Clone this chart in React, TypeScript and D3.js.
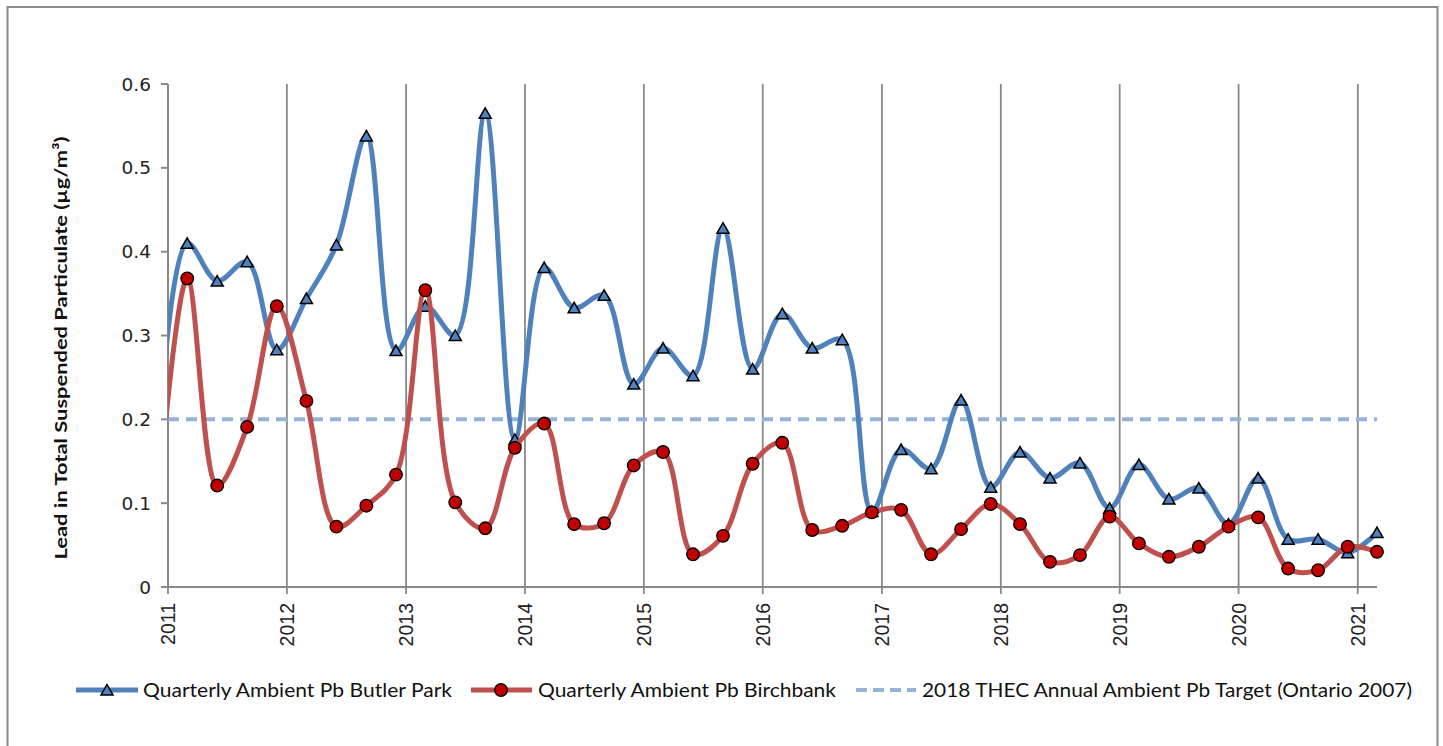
import * as d3 from 'd3'

// quarterly sampling dates (first one sits just left of the axis and is clipped)
const dates: string[] = [
    '2010-12-01',
    '2011-03-01', '2011-06-01', '2011-09-01', '2011-12-01',
    '2012-03-01', '2012-06-01', '2012-09-01', '2012-12-01',
    '2013-03-01', '2013-06-01', '2013-09-01', '2013-12-01',
    '2014-03-01', '2014-06-01', '2014-09-01', '2014-12-01',
    '2015-03-01', '2015-06-01', '2015-09-01', '2015-12-01',
    '2016-03-01', '2016-06-01', '2016-09-01', '2016-12-01',
    '2017-03-01', '2017-06-01', '2017-09-01', '2017-12-01',
    '2018-03-01', '2018-06-01', '2018-09-01', '2018-12-01',
    '2019-03-01', '2019-06-01', '2019-09-01', '2019-12-01',
    '2020-03-01', '2020-06-01', '2020-09-01', '2020-12-01',
    '2021-03-01',
]

const butlerPark: number[] = [
    0.16,
    0.41, 0.365, 0.388, 0.283,
    0.344, 0.408, 0.538, 0.282,
    0.335, 0.3, 0.565, 0.176,
    0.381, 0.333, 0.348, 0.242,
    0.285, 0.252, 0.428, 0.26,
    0.326, 0.285, 0.295, 0.09,
    0.164, 0.141, 0.223, 0.119,
    0.161, 0.13, 0.148, 0.094,
    0.146, 0.105, 0.118, 0.075,
    0.13, 0.057, 0.057, 0.041,
    0.065,
]

const birchbank: number[] = [
    0.1,
    0.368, 0.121, 0.191, 0.335,
    0.222, 0.072, 0.097, 0.134,
    0.354, 0.101, 0.07, 0.166,
    0.195, 0.075, 0.076, 0.145,
    0.161, 0.039, 0.061, 0.147,
    0.172, 0.068, 0.073, 0.089,
    0.092, 0.039, 0.069, 0.099,
    0.075, 0.03, 0.038, 0.084,
    0.052, 0.036, 0.048, 0.072,
    0.083, 0.022, 0.02, 0.048,
    0.042,
]

const target = 0.2
const yTicks: number[] = [0, 0.1, 0.2, 0.3, 0.4, 0.5, 0.6]
const yearTicks: number[] = [2011, 2012, 2013, 2014, 2015, 2016, 2017, 2018, 2019, 2020, 2021]

const legendLabels: string[] = [
    'Quarterly Ambient Pb Butler Park',
    'Quarterly Ambient Pb Birchbank',
    '2018 THEC Annual Ambient Pb Target (Ontario 2007)',
]

const BLUE = '#4F81BD'
const RED = '#C0504D'
const RED_FILL = '#C00000'
const DASH = '#95B3D7'
const GRAY = '#898989'

const parse = d3.timeParse('%Y-%m-%d')

export default function App() {
    const x0 = parse('2011-01-01')!
    const x1 = parse('2021-03-01')!
    const x = d3.scaleTime().domain([x0, x1]).range([168, 1377])
    const y = d3.scaleLinear().domain([0, 0.6]).range([587, 84])

    const pts = (vals: number[]) => dates.map((d, i) => ({ d: parse(d)!, v: vals[i] }))
    const blue = pts(butlerPark)
    const red = pts(birchbank)

    const line = d3.line<{ d: Date, v: number }>()
        .x(p => x(p.d))
        .y(p => y(p.v))
        .curve(d3.curveCatmullRom.alpha(0.5))

    const visible = (p: { d: Date }) => p.d >= x0
    const tri = 'M0,-5.5L6,5L-6,5Z'
    const yearX = (yr: number) => x(new Date(yr, 0, 1))

    return (
        <svg width={1443} height={746} style={{ position: 'absolute', left: 0, top: 0, background: '#fff' }}>
            <defs>
                <clipPath id="plot">
                    <rect x={168} y={60} width={1377 - 168} height={540} />
                </clipPath>
            </defs>
            <rect x={7.5} y={7} width={1430} height={760} fill="#fff" stroke={GRAY} strokeWidth={2} />

            {/* vertical year gridlines */}
            {yearTicks.map(yr => (
                <line key={yr} x1={yearX(yr)} x2={yearX(yr)} y1={y(0.6)} y2={y(0) + 7} stroke={GRAY} strokeWidth={1.8} />
            ))}

            {/* axes */}
            <line x1={168} x2={168} y1={y(0.6)} y2={y(0)} stroke={GRAY} strokeWidth={2} />
            <line x1={168} x2={1377} y1={y(0)} y2={y(0)} stroke={GRAY} strokeWidth={2} />
            {yTicks.map(t => (
                <g key={t}>
                    <line x1={161} x2={168} y1={y(t)} y2={y(t)} stroke={GRAY} strokeWidth={2} />
                    <text x={151} y={y(t)} dy="0.36em" textAnchor="end" fontFamily="DejaVu Sans" fontSize={18.5} fill="#222">{t}</text>
                </g>
            ))}
            {yearTicks.map(yr => (
                <text key={yr} transform={`translate(${yearX(yr)},603) rotate(-90)`} dy="0.36em" textAnchor="end"
                    fontFamily="Liberation Sans" fontSize={19.5} fill="#222">{yr}</text>
            ))}

            <text transform="translate(61,348) rotate(-90)" dy="0.35em" textAnchor="middle" fontFamily="Lato" fontWeight="bold"
                fontSize={17.5} fill="#111" textLength={423} lengthAdjust="spacingAndGlyphs">
                Lead in Total Suspended Particulate (µg/m³)
            </text>

            {/* target line */}
            <line x1={168} x2={1377} y1={y(target)} y2={y(target)} stroke={DASH} strokeWidth={4} strokeDasharray="11,7" />

            {/* Butler Park */}
            <path d={line(blue)!} fill="none" stroke={BLUE} strokeWidth={5} clipPath="url(#plot)" />
            {blue.filter(visible).map((p, i) => (
                <path key={i} d={tri} transform={`translate(${x(p.d)},${y(p.v)})`} fill={BLUE} stroke="#000" strokeWidth={1.5} strokeLinejoin="miter" />
            ))}

            {/* Birchbank */}
            <path d={line(red)!} fill="none" stroke={RED} strokeWidth={5} clipPath="url(#plot)" />
            {red.filter(visible).map((p, i) => (
                <circle key={i} cx={x(p.d)} cy={y(p.v)} r={6.3} fill={RED_FILL} stroke="#000" strokeWidth={1.3} />
            ))}

            {/* legend */}
            <line x1={76} x2={138} y1={690} y2={690} stroke={BLUE} strokeWidth={5} />
            <path d={tri} transform="translate(107,690)" fill={BLUE} stroke="#000" strokeWidth={1.5} />
            <text x={143} y={697} fontFamily="Lato" fontSize={19} fill="#111" textLength={309} lengthAdjust="spacingAndGlyphs">{legendLabels[0]}</text>

            <line x1={471} x2={532} y1={690} y2={690} stroke={RED} strokeWidth={5} />
            <circle cx={501} cy={690} r={6.3} fill={RED_FILL} stroke="#000" strokeWidth={1.3} />
            <text x={538} y={697} fontFamily="Lato" fontSize={19} fill="#111" textLength={298} lengthAdjust="spacingAndGlyphs">{legendLabels[1]}</text>

            <line x1={856} x2={916} y1={690} y2={690} stroke={DASH} strokeWidth={4} strokeDasharray="11,6" />
            <text x={922} y={697} fontFamily="Lato" fontSize={19} fill="#111" textLength={490} lengthAdjust="spacingAndGlyphs">{legendLabels[2]}</text>
        </svg>
    )
}
